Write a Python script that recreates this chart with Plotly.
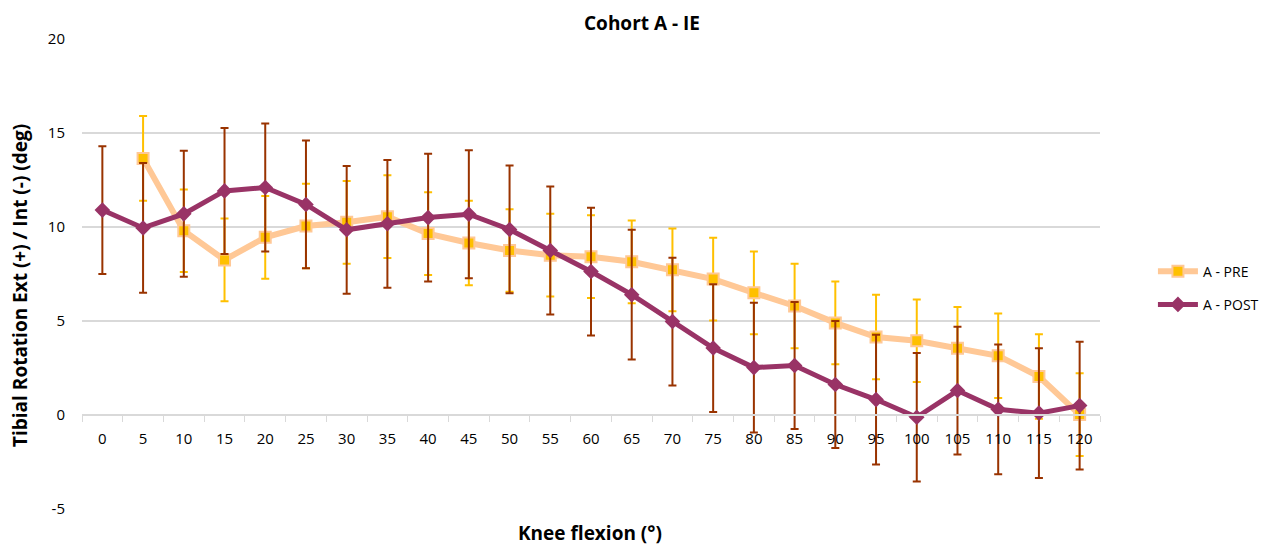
import plotly.graph_objects as go

angles = ["0", "5", "10", "15", "20", "25", "30", "35", "40", "45", "50", "55", "60",
          "65", "70", "75", "80", "85", "90", "95", "100", "105", "110", "115", "120"]

pre = [None, 13.65, 9.8, 8.25, 9.45, 10.05, 10.25, 10.55, 9.65, 9.15, 8.75, 8.5, 8.42,
       8.15, 7.72, 7.23, 6.5, 5.8, 4.9, 4.15, 3.95, 3.55, 3.15, 2.05, 0.02]
pre_err = [None, 2.25, 2.2, 2.2, 2.2, 2.25, 2.2, 2.2, 2.2, 2.25, 2.2, 2.2, 2.2,
           2.2, 2.2, 2.2, 2.2, 2.25, 2.2, 2.25, 2.2, 2.2, 2.25, 2.25, 2.2]

post = [10.9, 9.95, 10.7, 11.92, 12.1, 11.2, 9.85, 10.17, 10.5, 10.68, 9.87, 8.75, 7.63,
        6.4, 4.97, 3.56, 2.52, 2.63, 1.62, 0.82, -0.12, 1.3, 0.3, 0.1, 0.5]
post_err = [3.4, 3.45, 3.35, 3.35, 3.4, 3.4, 3.4, 3.4, 3.4, 3.4, 3.4, 3.4, 3.4,
            3.45, 3.4, 3.4, 3.45, 3.38, 3.38, 3.45, 3.42, 3.4, 3.45, 3.45, 3.4]

y_ticks = [-5, 0, 5, 10, 15, 20]
y_tick_text = ["-5", "0", "5", "10", "15", "20"]

FONT = "Open Sans"

fig = go.Figure()
fig.add_trace(go.Scatter(
    x=angles, y=pre, name="A - PRE", mode="lines+markers",
    line=dict(color="#FFC896", width=6),
    marker=dict(symbol="square", size=11, color="#FFC000", line=dict(color="#FFC896", width=2)),
    error_y=dict(type="data", array=pre_err, visible=True, color="#FFC000", thickness=2, width=4),
    legendgroup="a",
))
fig.add_trace(go.Scatter(
    x=angles, y=post, name="A - POST", mode="lines+markers",
    line=dict(color="#993366", width=5),
    marker=dict(symbol="diamond", size=12, color="#993366"),
    error_y=dict(type="data", array=post_err, visible=True, color="#993300", thickness=2, width=4),
    legendgroup="b",
))

fig.update_layout(
    width=1276, height=547,
    margin=dict(l=82, r=176, t=39, b=38),
    paper_bgcolor="white", plot_bgcolor="white",
    font=dict(family=FONT, size=15, color="#000000"),
    title=dict(text="<b>Cohort A - IE</b>", x=642 / 1276, xref="container", xanchor="center",
               y=1 - 23 / 547, yanchor="middle", font=dict(size=19, family=FONT)),
    showlegend=True,
    legend=dict(x=1.052, xanchor="left", y=0.47, yanchor="middle", font=dict(size=14),
                tracegroupgap=12, itemwidth=40, bgcolor="rgba(0,0,0,0)"),
    xaxis=dict(type="category", categoryorder="array", categoryarray=angles,
               anchor="free", position=0.2, showline=True, linecolor="#D9D9D9", linewidth=1.5,
               ticks="outside", tickson="boundaries", ticklen=6, tickcolor="#D9D9D9",
               showgrid=False, tickfont=dict(size=15), ticklabelstandoff=10,
               range=[-0.5, 24.5]),
    yaxis=dict(range=[-5, 20], tickvals=y_ticks, ticktext=y_tick_text, showgrid=True,
               gridcolor="#D9D9D9", gridwidth=1.5, zeroline=False, showline=False, ticks="",
               ticklabelstandoff=16, tickfont=dict(size=15)),
    annotations=[
        dict(text="<b>Tibial Rotation Ext (+) / Int (-) (deg)</b>", textangle=-90,
             xref="paper", yref="paper", x=(20 - 82) / 1018, y=(509 - 286) / 470,
             xanchor="center", yanchor="middle",
             showarrow=False, font=dict(size=19, family=FONT)),
        dict(text="<b>Knee flexion (°)</b>", xref="paper", yref="paper", x=(590 - 82) / 1018,
             y=(509 - 533) / 470, xanchor="center", yanchor="middle", showarrow=False,
             font=dict(size=19, family=FONT)),
    ],
)

fig.write_html("out.html")
